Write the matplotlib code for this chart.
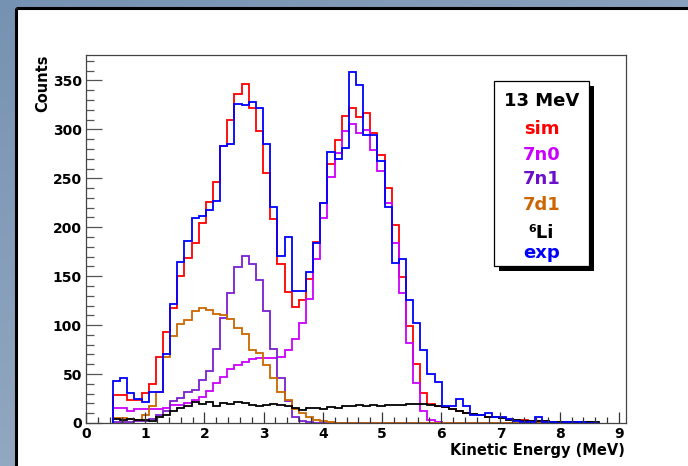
import numpy as np
import matplotlib
matplotlib.use("Agg")
import matplotlib.pyplot as plt
from matplotlib.patches import Rectangle
from matplotlib.ticker import MultipleLocator

# Histogram binning (MeV)
bin_start = 0.456
bin_width = 0.1207
n_bins = 68

# Counts per bin
exp_counts = [43, 46, 31, 25, 21, 32, 32, 70, 122, 164,
              186, 209, 212, 218, 227, 283, 285, 326, 325, 328,
              322, 285, 221, 171, 190, 135, 135, 154, 184, 225,
              277, 270, 281, 359, 345, 294, 294, 268, 221, 163,
              168, 126, 102, 75, 50, 42, 17, 17, 25, 17,
              8, 8, 10, 6, 6, 4, 2, 1, 1, 6,
              1, 1, 0, 1, 1, 1, 0, 0]
sim_counts = [29, 29, 24, 24, 31, 40, 67, 93, 118, 150,
              169, 184, 204, 226, 246, 283, 310, 336, 346, 322,
              298, 255, 208, 162, 134, 119, 126, 147, 185, 225,
              265, 289, 314, 322, 313, 317, 296, 274, 240, 202,
              149, 99, 60, 31, 19, 17, 16, 14, 12, 10,
              9, 8, 6, 6, 5, 4, 3, 3, 2, 2,
              2, 1, 1, 1, 1, 1, 1, 0]
n0_counts = [15, 15, 12, 14, 14, 14, 14, 15, 18, 18,
             20, 23, 27, 33, 41, 47, 55, 59, 62, 65,
             66, 66, 66, 67, 75, 86, 102, 127, 168, 209,
             251, 276, 298, 305, 296, 299, 279, 257, 225, 184,
             133, 82, 41, 12, 3, 1, 0, 0, 0, 0,
             0, 0, 0, 0, 0, 0, 0, 0, 0, 0,
             0, 0, 0, 0, 0, 0, 0, 0]
n1_counts = [1, 1, 1, 2, 2, 4, 8, 12, 22, 26,
             32, 34, 44, 53, 76, 107, 133, 159, 171, 162,
             146, 114, 76, 46, 22, 6, 2, 1, 0, 0,
             0, 0, 0, 0, 0, 0, 0, 0, 0, 0,
             0, 0, 0, 0, 0, 0, 0, 0, 0, 0,
             0, 0, 0, 0, 0, 0, 0, 0, 0, 0,
             0, 0, 0, 0, 0, 0, 0, 0]
d1_counts = [5, 5, 4, 3, 8, 17, 32, 67, 89, 101,
             105, 114, 117, 115, 111, 110, 106, 97, 91, 75,
             72, 59, 46, 32, 23, 14, 10, 6, 3, 2,
             1, 0, 0, 0, 0, 0, 0, 0, 0, 0,
             0, 0, 0, 0, 0, 0, 0, 0, 0, 0,
             0, 0, 0, 0, 0, 0, 0, 0, 0, 0,
             0, 0, 0, 0, 0, 0, 0, 0]
li6_counts = [4, 3, 4, 3, 3, 2, 6, 8, 12, 15,
              17, 21, 19, 21, 17, 20, 19, 21, 20, 18,
              17, 18, 19, 18, 17, 15, 13, 15, 15, 14,
              16, 15, 17, 17, 18, 17, 18, 17, 18, 18,
              18, 19, 19, 19, 18, 17, 16, 14, 12, 10,
              9, 8, 6, 6, 5, 3, 3, 2, 2, 2,
              2, 1, 1, 1, 1, 1, 1, 1]

legend_title = "13 MeV"
x_ticks = list(range(10))
y_ticks = list(range(0, 351, 50))

edges = bin_start + bin_width * np.arange(n_bins + 1)

W, H = 688, 466
fig = plt.figure(figsize=(W / 100, H / 100), dpi=100)

# window-style backdrop
bg = fig.add_axes([0, 0, 1, 1], zorder=0)
yy, xx = np.mgrid[0:H, 0:W]
t = (yy / H) * 0.6 + (xx / W) * 0.4
c0 = np.array([118, 146, 178]) / 255
c1 = np.array([165, 182, 202]) / 255
grad = c0[None, None, :] * (1 - t[..., None]) + c1[None, None, :] * t[..., None]
bg.imshow(grad, extent=[0, W, H, 0], aspect="auto")
bg.set_xlim(0, W)
bg.set_ylim(H, 0)
bg.add_patch(Rectangle((16, 8.5), W - 16, H - 8.5, facecolor="white", edgecolor="none"))
bg.plot([15.5, 15.5], [H, 8], color="black", lw=2.2, solid_capstyle="butt")
bg.plot([15.5, W], [8, 8], color="black", lw=2.2, solid_capstyle="butt")
bg.axis("off")

# main histogram panel
ax = fig.add_axes([86 / W, (H - 423) / H, 540 / W, 368 / H], zorder=2)
ax.set_facecolor("white")
ax.set_xlim(0, 9.12)
ax.set_ylim(0, 376)

series = [
    (sim_counts, "#ff0000"),
    (n0_counts, "#cc00ff"),
    (n1_counts, "#7b1fd1"),
    (d1_counts, "#cc6600"),
    (li6_counts, "#000000"),
    (exp_counts, "#0000ff"),
]
for vals, col in series:
    ax.stairs(vals, edges, color=col, lw=1.3, baseline=0)

for sp in ax.spines.values():
    sp.set_color("#444444")
    sp.set_linewidth(0.9)

ax.set_xticks(x_ticks)
ax.set_yticks(y_ticks)
ax.xaxis.set_minor_locator(MultipleLocator(0.2))
ax.yaxis.set_minor_locator(MultipleLocator(10))
ax.tick_params(axis="x", which="major", direction="in", length=8, width=0.9,
               color="#333333", pad=3, labelsize=10)
ax.tick_params(axis="x", which="minor", direction="in", length=4.3, width=0.9,
               color="#333333")
ax.tick_params(axis="y", which="major", direction="in", length=11.5, width=0.9,
               color="#555555", pad=3, labelsize=10)
ax.tick_params(axis="y", which="minor", direction="in", length=5.8, width=0.9,
               color="#555555")
for lab in ax.get_xticklabels() + ax.get_yticklabels():
    lab.set_fontweight("bold")

# overlay for axis titles and the legend box
ov = fig.add_axes([0, 0, 1, 1], zorder=5)
ov.set_xlim(0, W)
ov.set_ylim(H, 0)
ov.patch.set_alpha(0)
ov.axis("off")

ov.text(43, 55, "Counts", rotation=90, ha="center", va="top",
        fontsize=10.5, fontweight="bold")
ov.text(625, 451, "Kinetic Energy (MeV)", ha="right", va="center",
        fontsize=10.5, fontweight="bold")

bx0, by0, bx1, by1 = 494, 81, 589, 266
ov.add_patch(Rectangle((bx0 + 5, by0 + 5), bx1 - bx0, by1 - by0,
                       facecolor="black", edgecolor="none"))
ov.add_patch(Rectangle((bx0, by0), bx1 - bx0, by1 - by0,
                       facecolor="white", edgecolor="black", lw=0.9))

entries = [
    (legend_title, "black", 106.5),
    ("sim", "#ff0000", 134),
    ("7n0", "#cc00ff", 159.5),
    ("7n1", "#6a10c8", 184),
    ("7d1", "#cc6600", 210),
    ("\u2076Li", "black", 237.5),
    ("exp", "#0000ff", 258.5),
]
cx = (bx0 + bx1) / 2
for txt, col, yb in entries:
    ov.text(cx, yb, txt, ha="center", va="baseline", color=col,
            fontsize=13, fontweight="bold")

fig.savefig("out.png", dpi=100)
